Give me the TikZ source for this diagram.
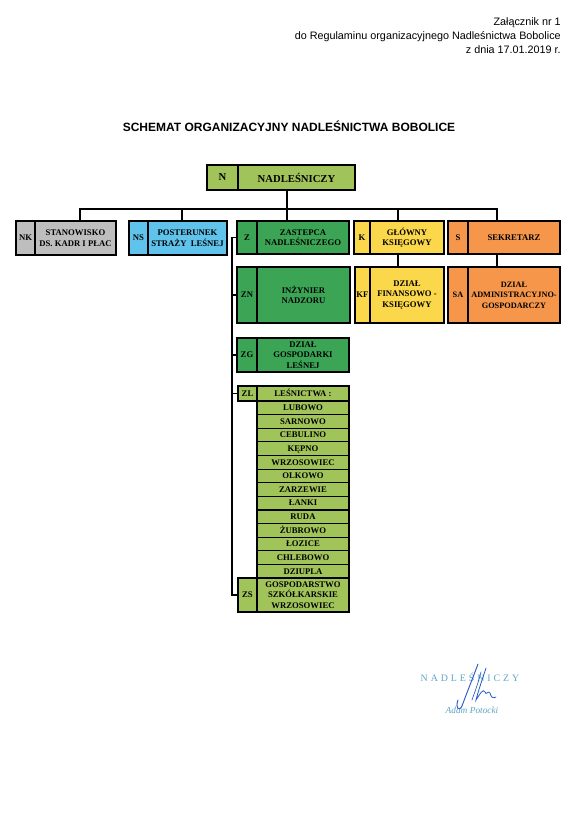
\documentclass[tikz,border=0pt]{standalone}
\usepackage{fontspec}
\setmainfont{Liberation Serif}
\setsansfont{Liberation Sans}
\newfontfamily\sigfont[LetterSpace=30]{Liberation Serif}
\definecolor{nkgray}{RGB}{190,190,190}
\definecolor{nsblue}{RGB}{95,195,235}
\definecolor{zgreen}{RGB}{60,165,85}
\definecolor{olive}{RGB}{160,195,90}
\definecolor{kyellow}{RGB}{250,215,75}
\definecolor{sorange}{RGB}{245,150,75}
\definecolor{sigblue}{RGB}{95,165,200}
\definecolor{inkblue}{RGB}{40,90,200}
\newcommand\orgbox[9]{%
  \node[cell,fill=#9,minimum width={(#3-#2)*0.75pt},minimum height={(#6-#5)*0.75pt}] (#1c) at ({(#2+#3)/2},{(#5+#6)/2}) {#7};
  \node[cell,fill=#9,minimum width={(#4-#3)*0.75pt},minimum height={(#6-#5)*0.75pt}] (#1) at ({(#3+#4)/2},{(#5+#6)/2}) {#8};}
\begin{document}
\begin{tikzpicture}[x=0.75pt,y=-0.75pt,
  cell/.style={draw,line width=0.8pt,inner sep=0pt,outer sep=0pt,align=center,
    font=\bfseries\fontsize{6.5}{7.9}\selectfont},
  row/.style={cell,text height=4.6pt,text depth=0.4pt},
  conn/.style={line width=1pt,black},
  hdr/.style={anchor=base east,inner sep=0pt,font=\sffamily\fontsize{8.1}{9}\selectfont}]
\useasboundingbox[fill=white] (0,0) rectangle (574,822);
% header
\node[hdr] (h1) at (561,25) {Załącznik nr 1};
\node[hdr] (h2) at (561,39) {do Regulaminu organizacyjnego Nadleśnictwa Bobolice};
\node[hdr] (h3) at (561,53) {z dnia 17.01.2019 r.};
\node[anchor=base,inner sep=0pt,font=\sffamily\bfseries\fontsize{9.0}{11}\selectfont] (title) at (289,131) {SCHEMAT ORGANIZACYJNY NADLEŚNICTWA BOBOLICE};
% boxes
\begin{scope}[cell/.append style={font=\bfseries\fontsize{8}{9}\selectfont}]
\orgbox{N}{207}{238}{355}{165}{190}{N}{NADLEŚNICZY}{olive}
\end{scope}
\orgbox{NK}{16}{35}{116}{221}{255}{NK}{STANOWISKO\\DS. KADR I PŁAC}{nkgray}
\orgbox{NS}{129}{148}{227}{221}{255}{NS}{POSTERUNEK\\STRAŻY\ \ LEŚNEJ}{nsblue}
\orgbox{Z}{237}{257}{349}{221}{254}{Z}{ZASTEPCA\\NADLEŚNICZEGO}{zgreen}
\orgbox{K}{354}{370}{444}{221}{254}{K}{GŁÓWNY\\KSIĘGOWY}{kyellow}
\orgbox{S}{448}{468}{560}{221}{254}{S}{SEKRETARZ}{sorange}
\orgbox{ZN}{237}{257}{350}{267}{323}{ZN}{INŻYNIER\\NADZORU}{zgreen}
\orgbox{KF}{355}{370}{444}{267}{323}{KF}{DZIAŁ\\FINANSOWO -\\KSIĘGOWY}{kyellow}
\begin{scope}[cell/.append style={font=\bfseries\fontsize{6.2}{7.9}\selectfont}]
\orgbox{SA}{448}{468}{560}{267}{323}{SA}{DZIAŁ\\ADMINISTRACYJNO-\\GOSPODARCZY}{sorange}
\end{scope}
\orgbox{ZG}{237}{257}{349}{338}{372}{ZG}{DZIAŁ\\GOSPODARKI\\LEŚNEJ}{zgreen}
\begin{scope}[cell/.append style={text height=4.6pt,text depth=0.4pt}]
\orgbox{ZL}{238}{257}{349}{386}{401}{ZL}{LEŚNICTWA :}{olive}
\end{scope}
\foreach \t [count=\i from 0] in {LUBOWO,SARNOWO,CEBULINO,KĘPNO,WRZOSOWIEC,OLKOWO,ZARZEWIE,ŁANKI,RUDA,ŻUBROWO,ŁOZICE,CHLEBOWO,DZIUPLA}{
  \node[row,fill=olive,minimum width=92*0.75pt,minimum height=13.62*0.75pt] (L\i) at (303,{401+13.62*\i+6.81}) {\t};
}
\orgbox{ZS}{238}{257}{349}{578}{612}{ZS}{GOSPODARSTWO\\SZKÓŁKARSKIE\\WRZOSOWIEC}{olive}
% connectors
\coordinate (bar) at (287,209);
\coordinate (xNK) at (80,0);
\coordinate (xNS) at (182,0);
\coordinate (xK) at (398,0);
\coordinate (xS) at (497,0);
\coordinate (sp) at (232,0);
\draw[conn] (bar |- N.south) -- (bar |- Z.north);
\draw[conn] (xNK |- NK.north) -- (xNK |- bar) -- (xS |- bar) -- (xS |- S.north);
\draw[conn] (xNS |- bar) -- (xNS |- NS.north);
\draw[conn] (xK |- bar) -- (xK |- K.north);
\draw[conn] (xK |- K.south) -- (xK |- KF.north);
\draw[conn] (xS |- S.south) -- (xS |- SA.north);
\draw[conn] (Zc.west) -- (Zc.west -| sp) -- (ZSc.west -| sp) -- (ZSc.west);
\foreach \n in {ZNc,ZGc,ZLc} \draw[conn] (\n.west) -- (\n.west -| sp);
% signature
\node[anchor=base,inner sep=0pt,text=sigblue,font=\sigfont\fontsize{7.4}{8}\selectfont] (sig) at (470,681) {NADLEŚNICZY};
\node[anchor=base,inner sep=0pt,text=sigblue,font=\itshape\fontsize{7}{8}\selectfont] (name) at (472,713) {Adam Potocki};
\draw[inkblue,line width=0.7pt,line cap=round] (478,664) .. controls (472,680) and (466,695) .. (462,706) .. controls (459,712) and (455,708) .. (458,700);
\draw[inkblue,line width=0.6pt,line cap=round] (486,668) .. controls (482,680) and (478,692) .. (476,700) .. controls (480,694) and (483,688) .. (485,692) .. controls (486,696) and (488,690) .. (490,693) .. controls (491,697) and (493,699) .. (496,697);
\draw[inkblue,line width=0.5pt,line cap=round] (481,672) .. controls (478,684) and (474,694) .. (472,700);
\end{tikzpicture}
\end{document}
